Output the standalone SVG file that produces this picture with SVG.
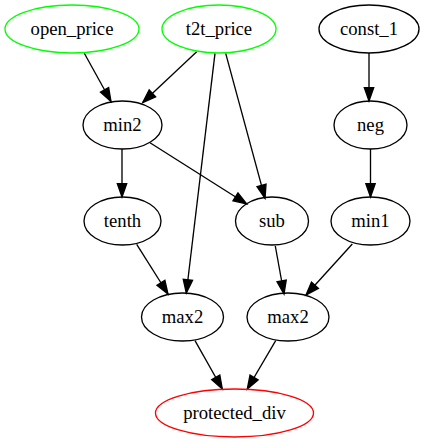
<svg xmlns="http://www.w3.org/2000/svg" width="427" height="443" viewBox="0 0 427 443">
  <style>
    .node ellipse { fill: none; stroke: #000; stroke-width: 1.33; }
    .node.input ellipse { stroke: #00ff00; }
    .node.output ellipse { stroke: #ff0000; }
    .node text { font-size: 18.67px; text-anchor: middle; fill: #000; }
    .edges path { fill: none; stroke: #000; stroke-width: 1.33; marker-end: url(#arrow); }
  </style>
  <defs>
    <marker id="arrow" markerUnits="userSpaceOnUse" markerWidth="16" markerHeight="12" refX="13.3" refY="5" orient="auto" overflow="visible">
      <path d="M0,0.33 L13.3,5 L0,9.67 Z" fill="#000" stroke="#000" stroke-width="1.33"/>
    </marker>
  </defs>
  <rect width="427" height="443" fill="#fff"/>

  <g class="edges">
    <path d="M84.3,53.3 L111,101.5"/>
    <path d="M196.7,51.7 L142.7,102.5"/>
    <path d="M215,53.3 L186.3,293"/>
    <path d="M225.7,53.3 L265,198.3"/>
    <path d="M369,53 L369,101"/>
    <path d="M122,149 L122,197"/>
    <path d="M150,142.7 L246.7,204"/>
    <path d="M370.5,149 L370.5,197"/>
    <path d="M136.7,244.3 L168,294"/>
    <path d="M275.3,246 L284,294"/>
    <path d="M352.3,244 L306,295"/>
    <path d="M195,340.7 L222.3,389"/>
    <path d="M275.7,340.7 L247.3,389"/>
  </g>

  <g font-family="'Liberation Serif', 'DejaVu Serif', serif">
    <g id="open_price" class="node input">
      <ellipse cx="72" cy="29" rx="67" ry="24"/>
      <text x="72" y="35">open_price</text>
    </g>
    <g id="t2t_price" class="node input">
      <ellipse cx="219" cy="29" rx="57" ry="24"/>
      <text x="219" y="35">t2t_price</text>
    </g>
    <g id="const_1" class="node">
      <ellipse cx="369" cy="29" rx="50" ry="24"/>
      <text x="369" y="35">const_1</text>
    </g>
    <g id="min2" class="node">
      <ellipse cx="122.5" cy="125" rx="39.5" ry="24"/>
      <text x="122.5" y="131">min2</text>
    </g>
    <g id="neg" class="node">
      <ellipse cx="370.5" cy="125" rx="36.5" ry="24"/>
      <text x="370.5" y="131">neg</text>
    </g>
    <g id="tenth" class="node">
      <ellipse cx="122.5" cy="221" rx="38.5" ry="24"/>
      <text x="122.5" y="227">tenth</text>
    </g>
    <g id="sub" class="node">
      <ellipse cx="272" cy="221" rx="36.5" ry="24"/>
      <text x="272" y="227">sub</text>
    </g>
    <g id="min1" class="node">
      <ellipse cx="370.5" cy="221" rx="39.5" ry="24"/>
      <text x="370.5" y="227">min1</text>
    </g>
    <g id="max2_a" class="node">
      <ellipse cx="182.5" cy="317" rx="41" ry="24"/>
      <text x="182.5" y="323">max2</text>
    </g>
    <g id="max2_b" class="node">
      <ellipse cx="288" cy="317" rx="41" ry="24"/>
      <text x="288" y="323">max2</text>
    </g>
    <g id="protected_div" class="node output">
      <ellipse cx="234.5" cy="413" rx="79" ry="24"/>
      <text x="234.5" y="419">protected_div</text>
    </g>
  </g>
</svg>
